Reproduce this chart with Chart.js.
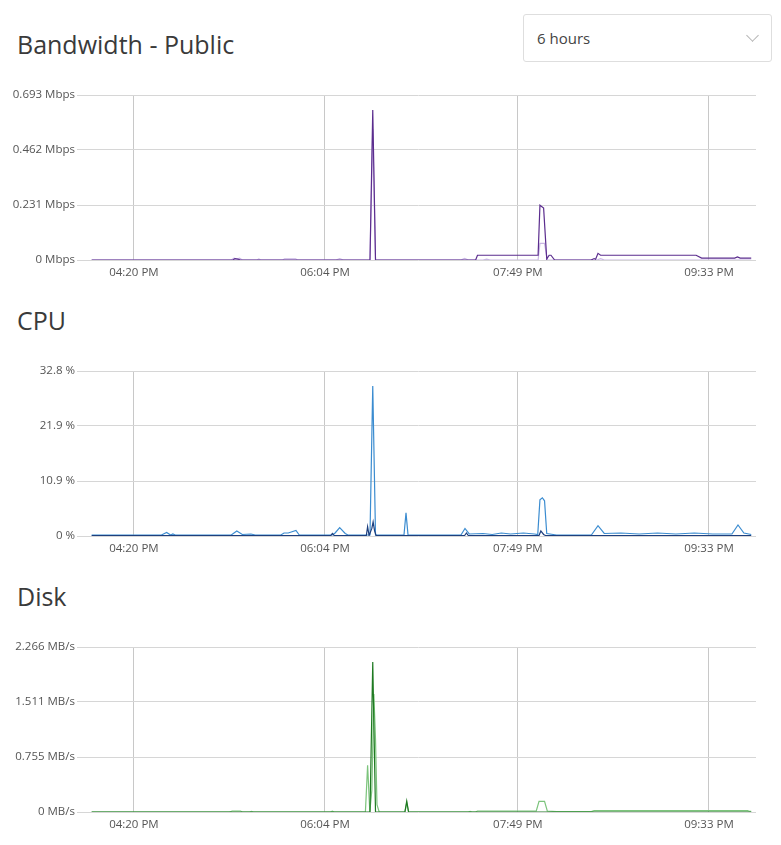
<!DOCTYPE html>
<html>
<head>
<meta charset="utf-8">
<script src="https://cdn.jsdelivr.net/npm/chart.js@4/dist/chart.umd.min.js"></script>
<style>
  html, body { margin: 0; padding: 0; background: #fff; }
  body { width: 781px; height: 845px; position: relative; overflow: hidden; font-family: "Open Sans", sans-serif; }
  .title { position: absolute; left: 17px; font-size: 25px; line-height: 30px; color: #3a3a3a; }
  .chart-box { position: absolute; left: 1px; width: 781px; height: 200px; }
  .select {
    position: absolute; left: 523px; top: 14px; width: 249px; height: 48px;
    border: 1px solid #dedede; border-radius: 3px; box-sizing: border-box;
  }
  .select span { position: absolute; left: 13px; top: 13px; font-size: 15px; line-height: 20px; color: #444; }
  .select i {
    position: absolute; left: 224px; top: 16px; width: 8px; height: 8px;
    border-right: 1px solid #b5b5b5; border-bottom: 1px solid #b5b5b5; transform: rotate(45deg);
  }
</style>
</head>
<body>
<div class="title" style="top:29px">Bandwidth - Public</div>
<div class="select"><span>6 hours</span><i></i></div>
<div class="chart-box" style="top:86px"><canvas id="bwChart" width="781" height="200"></canvas></div>

<div class="title" style="top:305px">CPU</div>
<div class="chart-box" style="top:362px"><canvas id="cpuChart" width="781" height="200"></canvas></div>

<div class="title" style="top:581px">Disk</div>
<div class="chart-box" style="top:638px"><canvas id="diskChart" width="781" height="200"></canvas></div>

<script>
// time axis (minutes after midnight)
const timeTicks = [980, 1084, 1189, 1293];
const timeLabels = ["04:20 PM", "06:04 PM", "07:49 PM", "09:33 PM"];

// Bandwidth - Public (Mbps)
const bwTicks = [0, 0.231, 0.462, 0.693];
const bwOutTimes  = [957, 1034, 1035, 1036.5, 1038, 1108.5, 1110, 1111.5, 1166, 1167, 1200, 1201, 1203, 1204.7, 1206, 1207, 1209, 1228.8, 1230.5, 1231.3, 1232.6, 1234, 1286, 1289, 1307, 1308.5, 1310, 1316];
const bwOutValues = [0, 0, 0.006, 0.004, 0, 0, 0.63, 0, 0, 0.02, 0.02, 0.23, 0.218, 0.004, 0.02, 0.02, 0, 0, 0.006, 0.003, 0.028, 0.02, 0.02, 0.008, 0.008, 0.013, 0.008, 0.008];
const bwInTimes  = [957, 1033, 1034.5, 1036, 1037.5, 1039, 1047, 1048, 1049, 1061, 1062, 1068, 1069, 1090, 1092, 1094, 1108.5, 1110, 1111.5, 1158, 1160, 1162, 1170, 1172, 1174, 1200, 1201, 1203.5, 1205, 1232, 1234, 1236, 1316];
const bwInValues = [0, 0, 0.008, 0.004, 0.008, 0, 0, 0.004, 0, 0, 0.005, 0.005, 0, 0, 0.006, 0, 0, 0.55, 0, 0, 0.007, 0, 0, 0.004, 0, 0, 0.07, 0.07, 0, 0, 0.006, 0, 0];

// CPU (%)
const cpuTicks = [0, 10.9, 21.9, 32.8];
const cpuTotalTimes  = [957, 995, 997.8, 1000, 1001.2, 1002.5, 1033, 1036, 1039, 1043.7, 1046, 1060, 1061.7, 1064, 1068.2, 1070, 1088, 1089.5, 1092, 1095, 1096.5, 1108.5, 1110, 1111.5, 1127, 1128.1, 1129.2, 1158, 1160.2, 1162.5, 1170, 1175, 1180, 1185, 1192, 1198, 1199.8, 1201, 1202.3, 1203.5, 1204.7, 1210, 1229, 1232.6, 1236, 1245, 1255, 1265, 1275, 1285, 1295, 1305.5, 1308.8, 1312, 1316];
const cpuTotalValues = [0.2, 0.2, 0.7, 0.2, 0.4, 0.2, 0.2, 1.0, 0.3, 0.4, 0.2, 0.2, 0.6, 0.6, 1.1, 0.2, 0.2, 0.6, 1.65, 0.5, 0.2, 0.2, 29.8, 0.2, 0.2, 4.6, 0.2, 0.2, 1.5, 0.4, 0.5, 0.3, 0.6, 0.4, 0.6, 0.4, 0.3, 7.2, 7.6, 7.0, 0.5, 0.2, 0.2, 2.05, 0.5, 0.6, 0.4, 0.6, 0.4, 0.6, 0.4, 0.4, 2.2, 0.6, 0.3];
const cpuSysTimes  = [957, 1087.2, 1088, 1089, 1106.5, 1107.2, 1108, 1109.5, 1110.2, 1111, 1111.8, 1160, 1161, 1162, 1200.5, 1201.5, 1203, 1204, 1316];
const cpuSysValues = [0.1, 0.1, 0.5, 0.1, 0.1, 1.85, 0.1, 1.5, 2.8, 1.0, 0.1, 0.1, 0.6, 0.1, 0.1, 1.0, 0.3, 0.1, 0.1];

// Disk (MB/s)
const diskTicks = [0, 0.755, 1.511, 2.266];
const diskReadTimes  = [957, 1108.5, 1110, 1111.5, 1127.5, 1128.5, 1129.5, 1316];
const diskReadValues = [0, 0, 2.06, 0, 0, 0.15, 0, 0];
const diskWriteTimes  = [957, 1032, 1033.5, 1038, 1039, 1043, 1044, 1045, 1087, 1088, 1089, 1106, 1107.2, 1108.4, 1109.5, 1110.6, 1111.5, 1112.3, 1113.5, 1127.5, 1128.5, 1129.5, 1162, 1163, 1164, 1166, 1167, 1199, 1200.5, 1203.5, 1205, 1210, 1229, 1230.5, 1314, 1315, 1316];
const diskWriteValues = [0, 0, 0.014, 0.014, 0, 0, 0.01, 0, 0, 0.012, 0, 0, 0.64, 0, 0.3, 1.62, 1.0, 0.1, 0, 0, 0.13, 0, 0, 0.01, 0, 0, 0.014, 0.014, 0.147, 0.147, 0.014, 0.005, 0.005, 0.018, 0.018, 0.01, 0.01];

function points(times, values) {
  return times.map(function(t, i) { return { x: t, y: values[i] }; });
}

// first series in the list is drawn on top
function makeChart(id, yTicks, unit, series) {
  const ctx = document.getElementById(id).getContext("2d");
  return new Chart(ctx, {
    type: "line",
    data: {
      datasets: series.map(function(s) {
        return {
          data: points(s.times, s.values),
          borderColor: s.color,
          borderWidth: 1.2,
          pointRadius: 0,
          tension: 0,
          fill: false
        };
      })
    },
    options: {
      responsive: false,
      animation: false,
      layout: { padding: { top: 9, right: 26, left: 0, bottom: 0 } },
      plugins: { legend: { display: false }, tooltip: { enabled: false } },
      scales: {
        x: {
          type: "linear",
          min: 951.2,
          max: 1318.6,
          afterBuildTicks: function(scale) {
            scale.ticks = timeTicks.map(function(v) { return { value: v }; });
          },
          afterFit: function(scale) { scale.height = 26; },
          ticks: {
            autoSkip: false,
            maxRotation: 0,
            padding: 6,
            color: "#555",
            font: { family: "Open Sans", size: 11.5 },
            callback: function(v, i) { return timeLabels[i]; }
          },
          grid: { color: "#c8c8c8", drawTicks: false },
          border: { display: false }
        },
        y: {
          min: 0,
          max: yTicks[yTicks.length - 1],
          afterBuildTicks: function(scale) {
            scale.ticks = yTicks.map(function(v) { return { value: v }; });
          },
          afterFit: function(scale) { scale.width = 80; },
          ticks: {
            padding: 2,
            color: "#555",
            font: { family: "Open Sans", size: 11.5 },
            callback: function(v) { return v + " " + unit; }
          },
          grid: { color: "#d6d6d6", tickLength: 4 },
          border: { display: false }
        }
      }
    }
  });
}

makeChart("bwChart", bwTicks, "Mbps", [
  { times: bwOutTimes, values: bwOutValues, color: "#5b2d8e" },
  { times: bwInTimes, values: bwInValues, color: "#c9b6e4" }
]);

makeChart("cpuChart", cpuTicks, "%", [
  { times: cpuSysTimes, values: cpuSysValues, color: "#1e3f7e" },
  { times: cpuTotalTimes, values: cpuTotalValues, color: "#3b8cd0" }
]);

makeChart("diskChart", diskTicks, "MB/s", [
  { times: diskReadTimes, values: diskReadValues, color: "#1f7a22" },
  { times: diskWriteTimes, values: diskWriteValues, color: "#7cc47c" }
]);
</script>
</body>
</html>
